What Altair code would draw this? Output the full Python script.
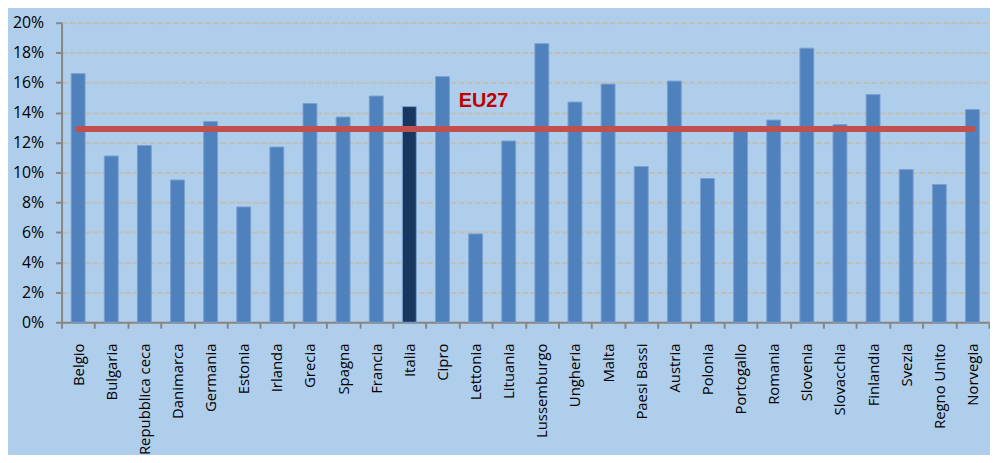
import altair as alt
import pandas as pd

countries = ["Belgio", "Bulgaria", "Repubblica ceca", "Danimarca", "Germania", "Estonia",
             "Irlanda", "Grecia", "Spagna", "Francia", "Italia", "Cipro", "Lettonia",
             "Lituania", "Lussemburgo", "Ungheria", "Malta", "Paesi Bassi", "Austria",
             "Polonia", "Portogallo", "Romania", "Slovenia", "Slovacchia", "Finlandia",
             "Svezia", "Regno Unito", "Norvegia"]
values = [16.6, 11.1, 11.8, 9.5, 13.4, 7.7, 11.7, 14.6, 13.7, 15.1, 14.4, 16.4, 5.9,
          12.1, 18.6, 14.7, 15.9, 10.4, 16.1, 9.6, 12.9, 13.5, 18.3, 13.2, 15.2,
          10.2, 9.2, 14.2]
eu27_value = 12.9
highlight = "Italia"
y_ticks = [0, 2, 4, 6, 8, 10, 12, 14, 16, 18, 20]
label_country = "Lettonia"
label_value = 14.8

df = pd.DataFrame({"country": countries, "value": values})
df["eu"] = eu27_value
df["hl"] = ["Italia" if c == highlight else "other" for c in countries]

lab = pd.DataFrame({"country": [label_country], "value": [label_value], "txt": ["EU27"]})

AX = "#868686"
FONT = "Open Sans"

x_enc = alt.X(
    "country:N", sort=countries,
    scale=alt.Scale(paddingInner=0, paddingOuter=0),
    axis=alt.Axis(title=None, labelAngle=-90, labelFont=FONT, labelFontSize=15,
                  labelColor="#000000", labelPadding=15, tickSize=6, tickBand="extent",
                  tickColor=AX, tickWidth=2, domainColor=AX, domainWidth=2, grid=False),
)

y_scale = alt.Scale(domain=[0, 20], nice=False)
y_axis = alt.Axis(title=None, values=y_ticks, labelExpr="datum.value + '%'",
                  labelFont=FONT, labelFontSize=16, labelColor="#000000",
                  labelPadding=12, tickSize=6, tickColor=AX, tickWidth=2,
                  domainColor=AX, domainWidth=2, grid=True, gridDash=[6, 2],
                  gridColor="#BFBFB8", gridWidth=2)

bars = alt.Chart(df).mark_bar(size=14, stroke="#7A9FD0", strokeWidth=1).encode(
    x=x_enc,
    y=alt.Y("value:Q", scale=y_scale, axis=y_axis),
    color=alt.Color("hl:N", scale=alt.Scale(domain=["other", "Italia"],
                                            range=["#4F81BD", "#17375E"]), legend=None),
)

line = alt.Chart(df).mark_line(color="#C0504D", strokeWidth=6, strokeCap="round").encode(
    x=x_enc,
    y=alt.Y("eu:Q", scale=y_scale, axis=y_axis),
)

text = alt.Chart(lab).mark_text(font="Liberation Sans", fontWeight="bold", fontSize=20,
                                color="#C00000", dx=8, baseline="middle").encode(
    x=x_enc,
    y=alt.Y("value:Q", scale=y_scale, axis=y_axis),
    text="txt:N",
)

chart = alt.layer(bars, line, text).properties(
    width=935, height=302,
    autosize=alt.AutoSizeParams(type="none"),
    padding={"left": 54, "top": 13, "right": 1, "bottom": 132},
    background="#AFCEEC",
).configure_view(stroke=None)

chart.save("out.html", embed_options={"renderer": "svg", "actions": False})
